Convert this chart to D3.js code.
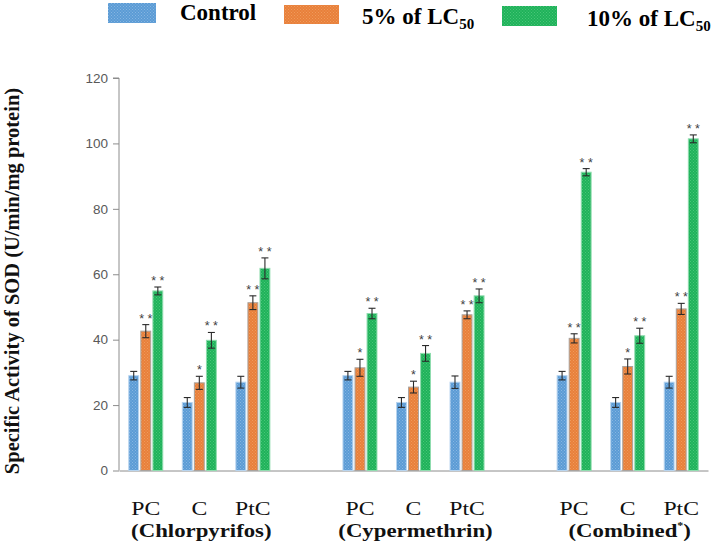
<!DOCTYPE html>
<html><head><meta charset="utf-8">
<script src="https://cdn.jsdelivr.net/npm/d3@7"></script>
<style>body{margin:0;background:#fff}svg{display:block}</style>
</head><body><svg id="chart" width="717" height="554"></svg>
<script>
const groups = ["Chlorpyrifos", "Cypermethrin", "Combined"];
const tissues = ["PC", "C", "PtC"];
const series = ["Control", "5% of LC50", "10% of LC50"];
const yTicks = [0, 20, 40, 60, 80, 100, 120];
// values ordered: Chlorpyrifos PC,C,PtC | Cypermethrin PC,C,PtC | Combined PC,C,PtC
const controlValues = [29.0, 20.8, 27.0, 29.0, 20.8, 27.0, 29.0, 20.8, 27.0];
const controlErrors = [1.3, 1.5, 1.8, 1.3, 1.5, 1.9, 1.3, 1.5, 1.8];
const lc5Values = [42.6, 26.8, 51.3, 31.4, 25.5, 47.6, 40.4, 31.8, 49.4];
const lc5Errors = [2.0, 2.0, 2.1, 2.6, 1.8, 1.2, 1.4, 2.3, 1.7];
const lc10Values = [54.9, 39.8, 61.8, 48.0, 35.8, 53.4, 91.2, 41.2, 101.4];
const lc10Errors = [1.2, 2.4, 3.2, 1.6, 2.4, 2.1, 1.1, 2.3, 1.2];
const controlSignif = ["", "", "", "", "", "", "", "", ""];
const lc5Signif = ["**", "*", "**", "*", "*", "**", "**", "*", "**"];
const lc10Signif = ["**", "**", "**", "**", "**", "**", "**", "**", "**"];

const values = [controlValues, lc5Values, lc10Values];
const errors = [controlErrors, lc5Errors, lc10Errors];
const signif = [controlSignif, lc5Signif, lc10Signif];

const svg = d3.select("#chart");
const colors = [
  {base: "#5b9bd5", dot: "#86b6e2", stroke: "#b7d4ef"},
  {base: "#e8803a", dot: "#f09a5c", stroke: "#a9a39e"},
  {base: "#1fb25a", dot: "#48c678", stroke: "#8fdcae"}
];
const defs = svg.append("defs");
colors.forEach((c, i) => {
  const p = defs.append("pattern").attr("id", "pat" + i).attr("patternUnits", "userSpaceOnUse")
    .attr("width", 3).attr("height", 3);
  p.append("rect").attr("width", 3).attr("height", 3).attr("fill", c.base);
  p.append("rect").attr("x", 0).attr("y", 0).attr("width", 1).attr("height", 1).attr("fill", c.dot);
  p.append("rect").attr("x", 1.5).attr("y", 1.5).attr("width", 1).attr("height", 1).attr("fill", c.dot);
});

const slots = d3.range(groups.length * (tissues.length + 1) - 1);
const x = d3.scaleBand().domain(slots).range([119, 708]).padding(0);
const clusterW = 34;
const xInner = d3.scaleBand().domain(series).range([0, clusterW]).paddingInner(0.18);
const y = d3.scaleLinear().domain([0, 120]).range([470.5, 78]);
const slotOf = i => Math.floor(i / 3) * 4 + (i % 3);
const clusterX = i => x(slotOf(i)) + (x.bandwidth() - clusterW) / 2;

// Y axis
const yAxis = d3.axisLeft(y).tickValues(yTicks).tickSize(6).tickPadding(5);
const ga = svg.append("g").attr("transform", "translate(119,0)").call(yAxis);
ga.select(".domain").attr("stroke", "#8c8c8c").attr("d", `M-6,${y(120)}H0V${y(0)}`);
ga.selectAll(".tick line").attr("stroke", "#8c8c8c");
ga.selectAll(".tick text").attr("fill", "#595959").style("font-family", "'Liberation Sans', Arial, sans-serif").style("font-size", "13.5px");

// X axis
const xAxis = d3.axisBottom(x).tickSize(0).tickFormat("");
const gx = svg.append("g").attr("transform", `translate(0,${y(0)})`).call(xAxis);
gx.select(".domain").attr("stroke", "#8c8c8c");

// Bars
const flat = [];
values.forEach((arr, s) => arr.forEach((v, i) => flat.push({s, i, v, e: errors[s][i], sig: signif[s][i]})));
svg.append("g").selectAll("rect").data(flat).join("rect")
  .attr("x", d => clusterX(d.i) + xInner(series[d.s]))
  .attr("y", d => y(d.v))
  .attr("width", xInner.bandwidth())
  .attr("height", d => y(0) - y(d.v))
  .attr("fill", d => `url(#pat${d.s})`)
  .attr("stroke", d => colors[d.s].stroke)
  .attr("stroke-width", 1);

// Error bars
const eg = svg.append("g").attr("stroke", "#2a2a2a").attr("stroke-width", 1.1);
flat.forEach(d => {
  const cx = clusterX(d.i) + xInner(series[d.s]) + xInner.bandwidth() / 2;
  eg.append("line").attr("x1", cx).attr("x2", cx).attr("y1", y(d.v + d.e)).attr("y2", y(d.v - d.e));
  eg.append("line").attr("x1", cx - 3.5).attr("x2", cx + 3.5).attr("y1", y(d.v + d.e)).attr("y2", y(d.v + d.e));
  eg.append("line").attr("x1", cx - 3.5).attr("x2", cx + 3.5).attr("y1", y(d.v - d.e)).attr("y2", y(d.v - d.e));
});

// Significance stars
svg.append("g").selectAll("text").data(flat.filter(d => d.sig)).join("text")
  .attr("x", d => clusterX(d.i) + xInner(series[d.s]) + xInner.bandwidth() / 2)
  .attr("y", d => y(d.v + d.e) - 2)
  .attr("text-anchor", "middle")
  .attr("fill", "#404040")
  .style("font-family", "'Liberation Sans', Arial, sans-serif")
  .style("font-size", "12.5px")
  .text(d => d.sig.split("").join(" "));

// Tissue labels
groups.forEach((g, gi) => {
  tissues.forEach((t, ti) => {
    const cx = clusterX(gi * 3 + ti) + clusterW / 2;
    svg.append("text")
      .attr("transform", `translate(${cx},514.5) scale(1.32,1)`)
      .attr("text-anchor", "middle")
      .style("font-family", "'Liberation Serif', 'Times New Roman', serif")
      .style("font-size", "18px")
      .attr("fill", "#111")
      .text(t);
  });
  const gc = (clusterX(gi * 3) + clusterX(gi * 3 + 2) + clusterW) / 2;
  const gt = svg.append("text")
    .attr("transform", `translate(${gc + 2},536.5) scale(1.2,1)`)
    .attr("text-anchor", "middle")
    .style("font-family", "'Liberation Serif', 'Times New Roman', serif")
    .style("font-size", "19px")
    .style("font-weight", "bold")
    .attr("fill", "#111");
  gt.append("tspan").text("(" + g);
  if (g === "Combined") gt.append("tspan").attr("dy", -8).style("font-size", "10px").text("*");
  gt.append("tspan").attr("dy", g === "Combined" ? 8 : 0).text(")");
});

// Y axis title
svg.append("text")
  .attr("transform", `translate(19,${281}) rotate(-90)`)
  .attr("text-anchor", "middle")
  .style("font-family", "'Liberation Serif', 'Times New Roman', serif")
  .style("font-size", "20.5px")
  .style("font-weight", "bold")
  .attr("fill", "#111")
  .text("Specific Activity of SOD (U/min/mg protein)");

// Legend
const legendSw = [[108, 3, 48, 20], [284, 5, 55, 19], [502, 6, 55, 20]];
const legendTx = [[180, 20], [362, 24], [587, 26]];
series.forEach((s, i) => {
  svg.append("rect").attr("x", legendSw[i][0]).attr("y", legendSw[i][1])
    .attr("width", legendSw[i][2]).attr("height", legendSw[i][3])
    .attr("fill", `url(#pat${i})`);
  const t = svg.append("text").attr("x", legendTx[i][0]).attr("y", legendTx[i][1])
    .style("font-family", "'Liberation Serif', 'Times New Roman', serif")
    .style("font-size", "23px").style("font-weight", "bold").attr("fill", "#000");
  const m = s.match(/^(.*LC)(\d+)$/);
  if (m) {
    t.append("tspan").text(m[1]);
    t.append("tspan").attr("dy", 5).style("font-size", "15px").text(m[2]);
  } else t.text(s);
});
</script></body></html>
